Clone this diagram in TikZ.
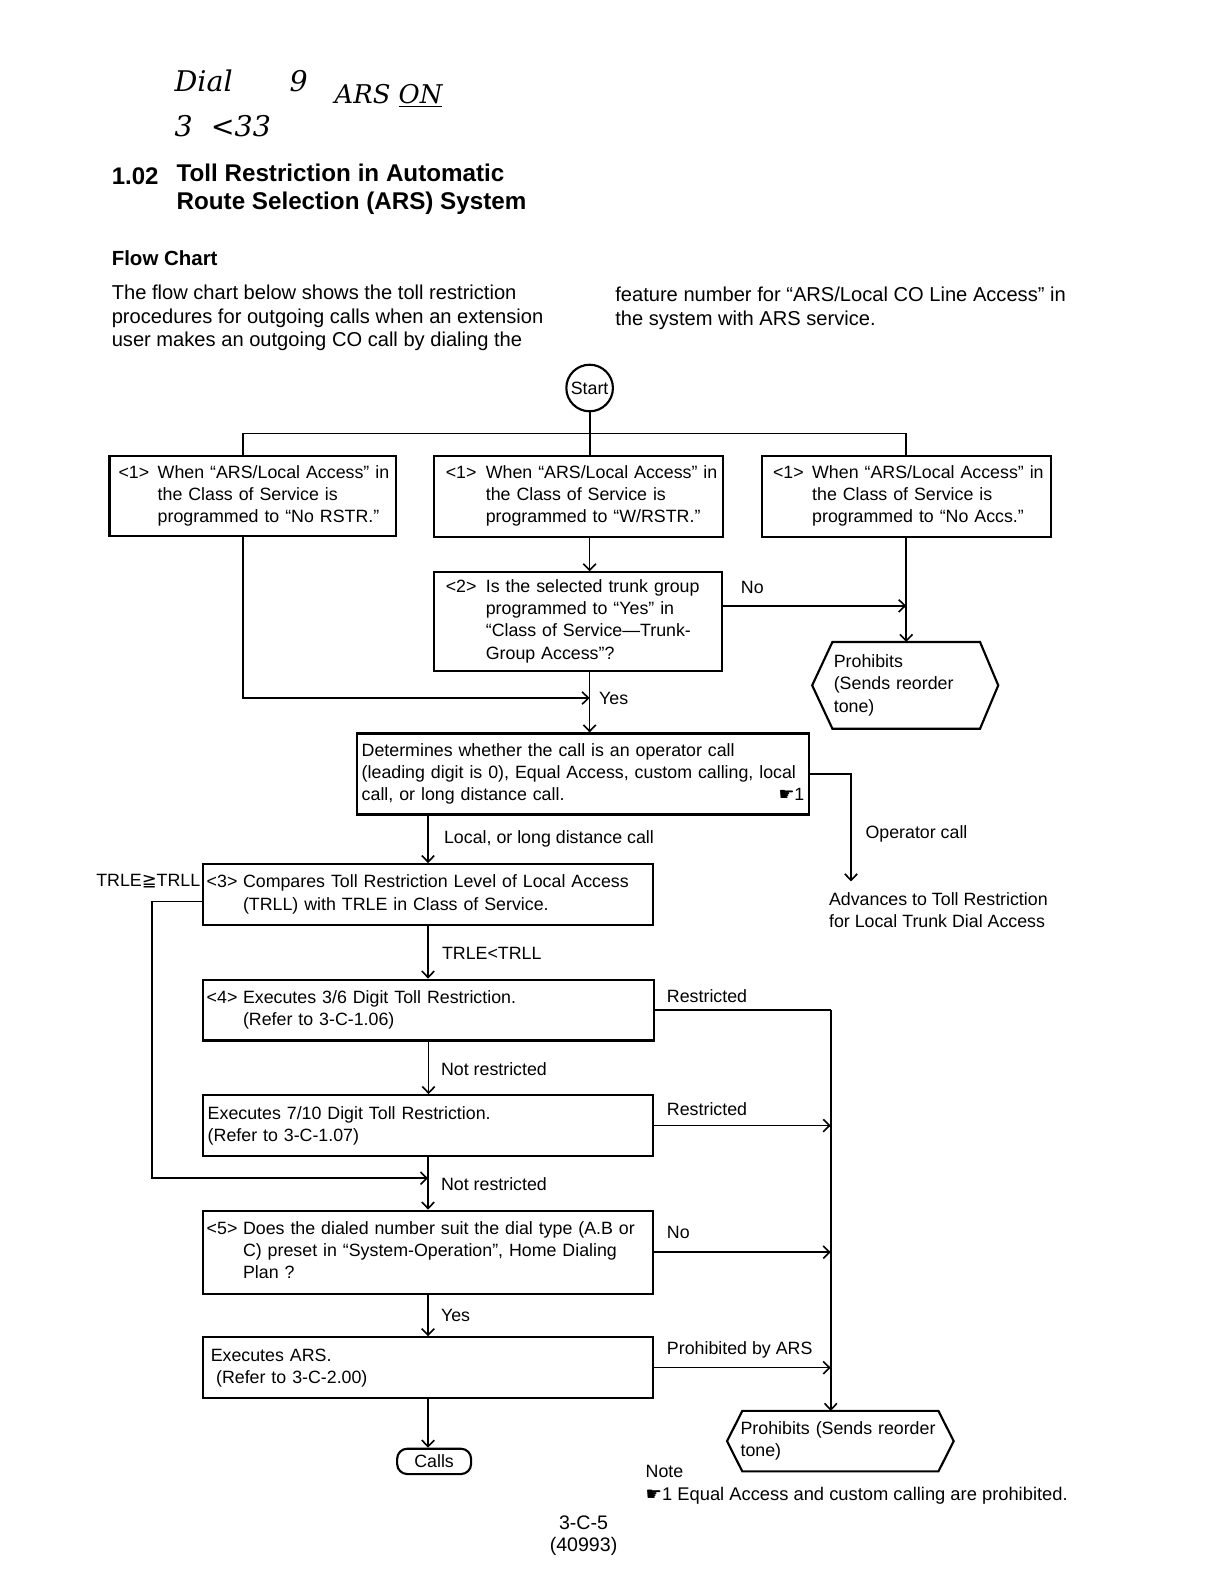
\documentclass[tikz,border=0pt]{standalone}
\usepackage{fontspec}
\setmainfont{Liberation Sans}
\newfontfamily\handfont{DejaVu Serif}
\newfontfamily\symfont{DejaVu Sans}
\usetikzlibrary{positioning, arrows.meta}
\newcommand{\boxfont}{\fontsize{10}{12.4}\selectfont}
\newcommand{\numline}[3]{\begin{tabular}[t]{@{}p{#1}@{}l@{}}#2 & \begin{tabular}[t]{@{}l@{}}#3\end{tabular}\end{tabular}}
\tikzstyle{flowbox} = [draw, line width=1.2pt, inner sep=0pt, align=left, font=\boxfont]
\tikzstyle{flowlabel} = [anchor=west, inner sep=0pt, font=\boxfont]
\tikzstyle{arr} = [-{Straight Barb[length=3.6pt,width=7pt]}, line width=0.9pt]
\tikzstyle{link} = [line width=1pt]

\begin{document}
\begin{tikzpicture}[x=0.02cm, y=-0.02cm]
\useasboundingbox (0,0) rectangle (1206,1565.5);

% handwritten note
\node (handDial) [anchor=west, inner sep=0pt, font=\handfont\itshape\fontsize{16}{20}\selectfont] at (172,80) {Dial\hspace{2em}9};
\node (handArs) [anchor=west, inner sep=0pt, font=\handfont\itshape\fontsize{14.5}{18}\selectfont] at (330,95) {ARS \underline{ON}};
\node (handNum) [anchor=west, inner sep=0pt, font=\handfont\itshape\fontsize{16}{20}\selectfont] at (172,125) {3\ \ <33};

% heading
\node (headNum) [anchor=west, inner sep=0pt, font=\bfseries\fontsize{13.5}{15.9}\selectfont] at (110,174) {1.02};
\node (headText) [anchor=west, align=left, inner sep=0pt, font=\bfseries\fontsize{13.6}{15.9}\selectfont] at (174,187) {Toll Restriction in Automatic\\Route Selection (ARS) System};
\node (flowTitle) [anchor=west, inner sep=0pt, font=\bfseries\fontsize{11.5}{14}\selectfont] at (110,255) {Flow Chart};

\node (introLeft) [anchor=west, align=left, inner sep=0pt, font=\fontsize{11.3}{13.3}\selectfont] at (110,314) {The flow chart below shows the toll restriction\\procedures for outgoing calls when an extension\\user makes an outgoing CO call by dialing the};
\node (introRight) [anchor=west, align=left, inner sep=0pt, font=\fontsize{11.3}{13.3}\selectfont] at (607,304) {feature number for ``ARS/Local CO Line Access'' in\\the system with ARS service.};

% flow chart
\node (start) [circle, draw, line width=1.2pt, inner sep=0pt, minimum size=0.92cm, font=\boxfont] at (582,383) {Start};
\coordinate (branch) at (582,428);
\coordinate (aLine) at (240,428);

\node (wayNoRstr) [flowbox, minimum width=5.66cm, minimum height=1.58cm, text width=5.30cm] at (249.5,489.5) {\numline{22pt}{<1>}{When ``ARS/Local Access'' in\\the Class of Service is\\programmed to ``No RSTR.''}};
\node (wayWRstr) [flowbox, minimum width=5.72cm, minimum height=1.6cm, text width=5.24cm] at (571,490) {\numline{22.5pt}{<1>}{When ``ARS/Local Access'' in\\the Class of Service is\\programmed to ``W/RSTR.''}};
\node (wayNoAccs) [flowbox, minimum width=5.70cm, minimum height=1.6cm, text width=5.26cm] at (894.5,490) {\numline{22pt}{<1>}{When ``ARS/Local Access'' in\\the Class of Service is\\programmed to ``No Accs.''}};

\node (trunkCheck) [flowbox, minimum width=5.70cm, minimum height=1.94cm, text width=5.22cm] at (570.5,613.5) {\numline{22.5pt}{<2>}{Is the selected trunk group\\programmed to ``Yes'' in\\``Class of Service---Trunk-\\Group Access''?}};

\node (prohibitTop) [inner sep=0pt, minimum width=3.66cm, minimum height=1.7cm, text width=2.82cm, align=left, font=\boxfont] at (893.5,676.5) {Prohibits\\(Sends reorder\\tone)};
\draw[line width=1.2pt] ([xshift=0.4cm]prohibitTop.north west) -- ([xshift=-0.36cm]prohibitTop.north east) -- (prohibitTop.east) -- ([xshift=-0.36cm]prohibitTop.south east) -- ([xshift=0.4cm]prohibitTop.south west) -- (prohibitTop.west) -- cycle;

\node (callType) [flowbox, minimum width=8.94cm, minimum height=1.6cm, text width=8.74cm] at (575.5,764) {Determines whether the call is an operator call\\(leading digit is 0), Equal Access, custom calling, local\\call, or long distance call.\hfill{\symfont ☛}1\hspace*{8pt}};

\node (advance) [flowlabel, align=left] at (818,898) {Advances to Toll Restriction\\for Local Trunk Dial Access};

\node (tollCompare) [flowbox, minimum width=8.90cm, minimum height=1.2cm, text width=8.74cm] at (422.5,883) {\numline{20.4pt}{<3>}{Compares Toll Restriction Level of Local Access\\(TRLL) with TRLE in Class of Service.}};
\node (digitSix) [flowbox, minimum width=8.92cm, minimum height=1.2cm, text width=8.76cm] at (423,997) {\numline{20.4pt}{<4>}{Executes 3/6 Digit Toll Restriction.\\(Refer to 3-C-1.06)}};
\node (digitTen) [flowbox, minimum width=8.90cm, minimum height=1.2cm, text width=8.70cm] at (422.5,1111) {Executes 7/10 Digit Toll Restriction.\\(Refer to 3-C-1.07)};
\node (dialType) [flowbox, minimum width=8.90cm, minimum height=1.64cm, text width=8.74cm] at (422.5,1236) {\numline{20.4pt}{<5>}{Does the dialed number suit the dial type (A.B or\\C) preset in ``System-Operation'', Home Dialing\\Plan ?}};
\node (arsExec) [flowbox, minimum width=8.90cm, minimum height=1.2cm, text width=8.58cm] at (422.5,1350) {Executes ARS.\\\hspace*{3pt}(Refer to 3-C-2.00)};
\node (calls) [draw, rounded corners=0.2cm, line width=1.2pt, minimum width=1.46cm, minimum height=0.5cm, inner sep=0pt, font=\boxfont] at (428.5,1442.5) {Calls};

\node (prohibitBottom) [inner sep=0pt, minimum width=4.46cm, minimum height=1.18cm, text width=3.94cm, align=left, font=\boxfont] at (829.5,1422.5) {Prohibits (Sends reorder\\tone)};
\draw[line width=1.2pt] ([xshift=0.3cm]prohibitBottom.north west) -- ([xshift=-0.3cm]prohibitBottom.north east) -- (prohibitBottom.east) -- ([xshift=-0.3cm]prohibitBottom.south east) -- ([xshift=0.3cm]prohibitBottom.south west) -- (prohibitBottom.west) -- cycle;

% labels
\node (labNoTop) [flowlabel] at (731,580) {No};
\node (labYesTop) [flowlabel] at (591,689) {Yes};
\node (labLocal) [flowlabel] at (438,828) {Local, or long distance call};
\node (labOperator) [flowlabel] at (854,823) {Operator call};
\node (labGeq) [flowlabel, anchor=east] at (198,870) {TRLE{\symfont ≧}TRLL};
\node (labLess) [flowlabel] at (436,941) {TRLE<TRLL};
\node (labRestrA) [flowlabel] at (658,983) {Restricted};
\node (labNotA) [flowlabel] at (435,1055) {Not restricted};
\node (labRestrB) [flowlabel] at (658,1095) {Restricted};
\node (labNotB) [flowlabel] at (435,1169) {Not restricted};
\node (labNoBottom) [flowlabel] at (658,1217) {No};
\node (labYesBottom) [flowlabel] at (435,1298) {Yes};
\node (labArs) [flowlabel] at (658,1332) {Prohibited by ARS};

\node (note) [flowlabel] at (637,1452) {Note};
\node (noteText) [flowlabel, font=\fontsize{10.3}{12.6}\selectfont] at (637,1476) {{\symfont ☛}1 Equal Access and custom calling are prohibited.};
\node (pageNum) [inner sep=0pt, font=\fontsize{11}{13}\selectfont] at (576,1503) {3-C-5};
\node (pageCode) [below=0.14cm of pageNum, inner sep=0pt, font=\fontsize{11}{13}\selectfont] {(40993)};

% connectors
\draw[link] (start) -- (branch);
\draw[link] (aLine |- wayNoRstr.north) -- (aLine) -- (aLine -| wayNoAccs.north) -- (wayNoAccs.north);
\draw[link] (branch) -- (branch |- wayWRstr.north);
\draw[arr] (branch |- wayWRstr.south) -- (branch |- trunkCheck.north);

\coordinate (noJoin) at (894.5,598);
\draw[arr] (trunkCheck.east |- noJoin) -- (noJoin);
\draw[arr] (wayNoAccs.south) -- (wayNoAccs.south |- prohibitTop.north);

\coordinate (yesJoin) at (582,689);
\draw[arr] (aLine |- wayNoRstr.south) |- (yesJoin);
\draw[arr] (branch |- trunkCheck.south) -- (branch |- callType.north);

\coordinate (opEnd) at (840,870);
\draw[arr] (callType.east) -| (opEnd);
\draw[arr] (callType.south -| tollCompare.north) -- (tollCompare.north);
\draw[arr] (tollCompare.south) -- (tollCompare.south |- digitSix.north);
\draw[arr] (digitSix.south) -- (digitSix.south |- digitTen.north);
\draw[arr] (digitTen.south) -- (digitTen.south |- dialType.north);
\coordinate (loopJoin) at (422.5,1163);
\draw[arr] ([yshift=-0.14cm]tollCompare.west) -- ++(-49,0) |- (loopJoin);
\draw[arr] (dialType.south) -- (dialType.south |- arsExec.north);
\draw[arr] (arsExec.south) -- (arsExec.south |- calls.north);

\coordinate (restrJoin) at (820,997);
\draw[link] (digitSix.east) -- (restrJoin);
\draw[arr] (restrJoin) -- (restrJoin |- prohibitBottom.north);
\draw[arr] (digitTen.east) -- (digitTen.east -| restrJoin);
\draw[arr] (dialType.east) -- (dialType.east -| restrJoin);
\draw[arr] (arsExec.east) -- (arsExec.east -| restrJoin);

\end{tikzpicture}
\end{document}
